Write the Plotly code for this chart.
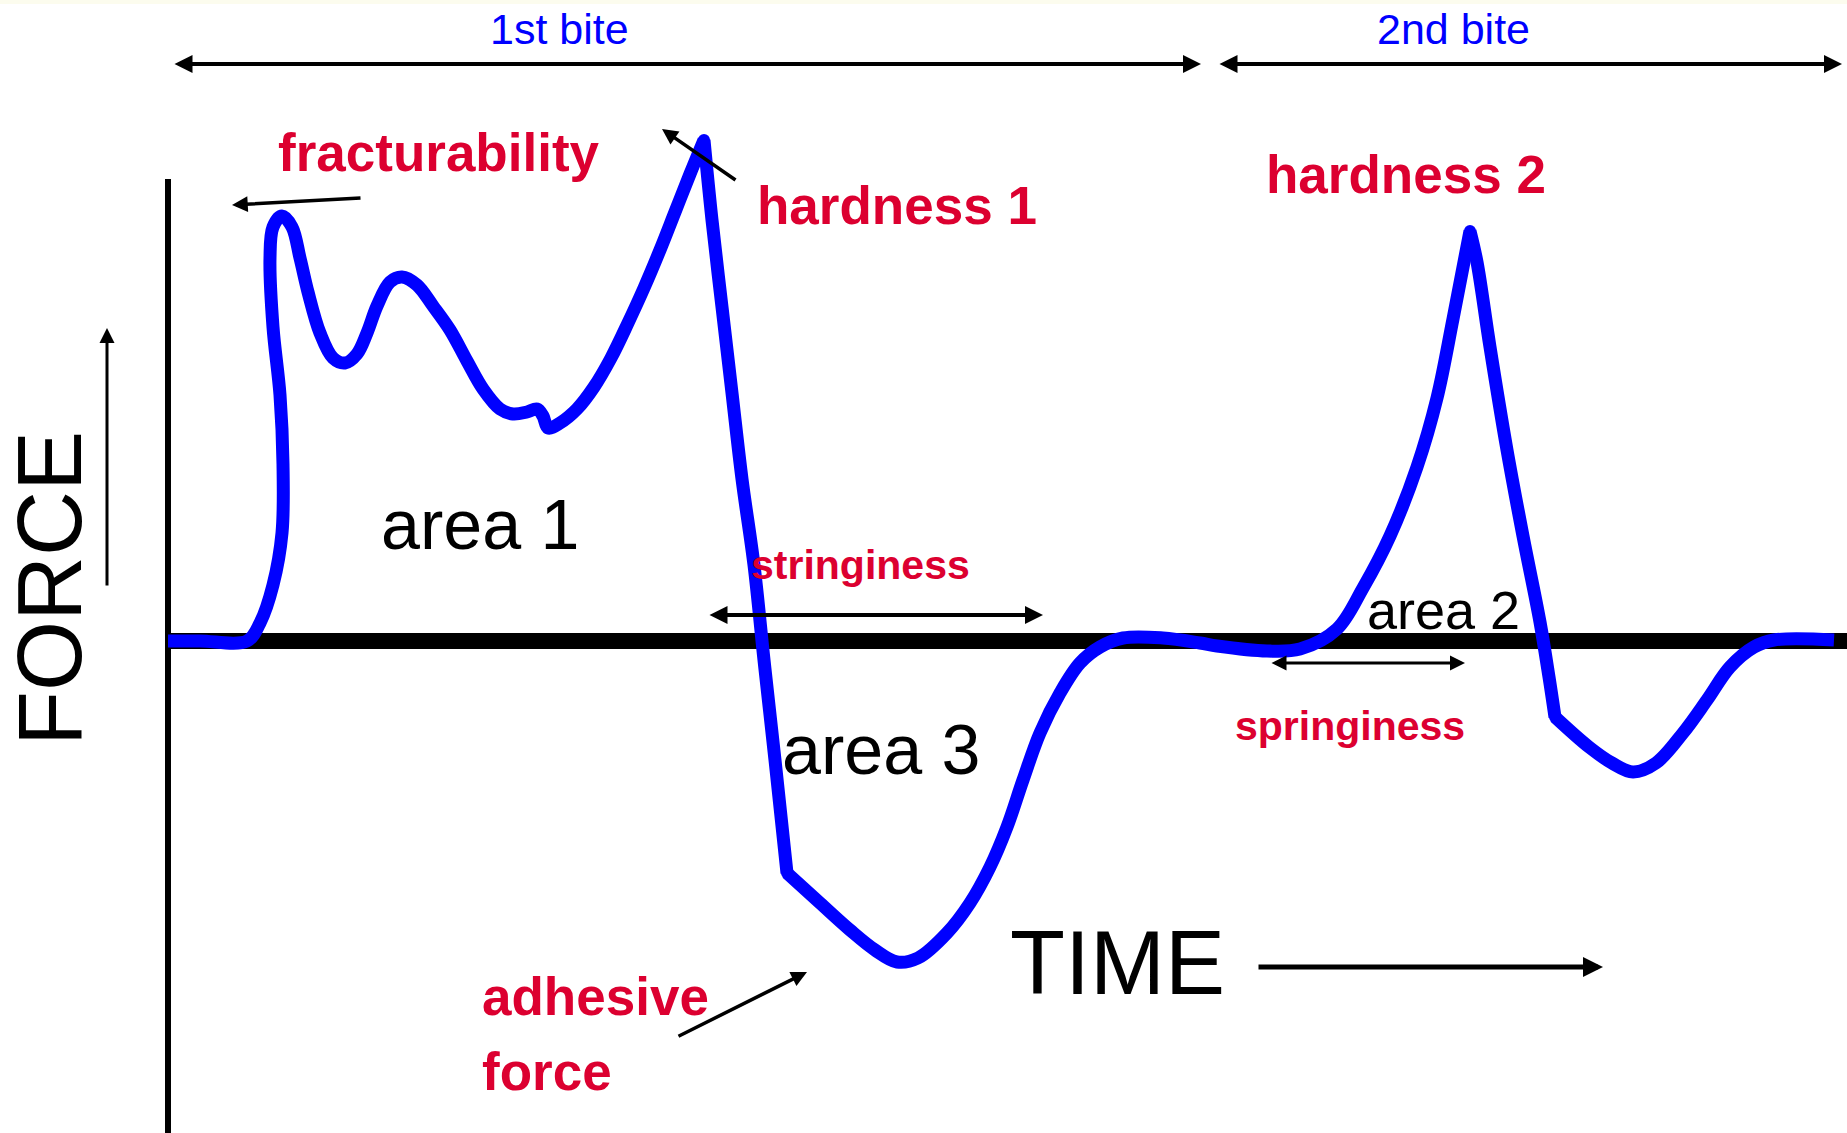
import plotly.graph_objects as go

# Texture profile analysis: force (N) against time (s) over two compression cycles.
# The curve is split at its sharp corners; neighbouring stretches share end points.
t_first_compression = [0.00, 0.32, 0.79, 0.92, 1.05, 1.14, 1.15, 1.12, 1.05, 1.02, 1.05, 1.14,
                       1.24, 1.32, 1.40, 1.52, 1.65, 1.77, 1.89, 1.99, 2.09, 2.22, 2.34, 2.49,
                       2.65, 2.82, 2.99, 3.15, 3.32, 3.45, 3.59, 3.69, 3.75, 3.80, 3.92, 4.09,
                       4.26, 4.43, 4.60, 4.76, 4.92, 5.07, 5.22, 5.36]
f_first_compression = [0.00, 0.00, 0.00, 0.18, 0.56, 1.08, 1.77, 2.46, 3.14, 3.83, 4.14, 4.25,
                       4.14, 3.83, 3.49, 3.08, 2.83, 2.78, 2.87, 3.08, 3.35, 3.59, 3.64, 3.56,
                       3.35, 3.11, 2.80, 2.52, 2.32, 2.27, 2.29, 2.32, 2.25, 2.13, 2.18, 2.32,
                       2.54, 2.83, 3.18, 3.53, 3.91, 4.29, 4.67, 5.01]

t_first_release = [5.36, 5.44, 5.54, 5.64, 5.74, 5.86, 5.96, 6.07, 6.19]
f_first_release = [5.01, 4.21, 3.34, 2.48, 1.62, 0.76, -0.19, -1.19, -2.32]

t_second_compression = [6.19, 6.52, 6.82, 7.07, 7.29, 7.50, 7.79, 8.02, 8.22, 8.39, 8.55, 8.72,
                        8.92, 9.12, 9.32, 9.55, 9.95, 10.32, 10.49, 10.99, 11.32, 11.69, 11.95,
                        12.22, 12.49, 12.69, 12.85, 13.02]
f_second_compression = [-2.32, -2.62, -2.89, -3.09, -3.21, -3.17, -2.92, -2.62, -2.26, -1.86,
                        -1.39, -0.92, -0.52, -0.22, -0.06, 0.03, 0.03, -0.02, -0.05, -0.10,
                        -0.08, 0.12, 0.53, 1.05, 1.74, 2.43, 3.22, 4.10]

t_second_release = [13.02, 13.09, 13.22, 13.39, 13.55, 13.72, 13.81, 13.87]
f_second_release = [4.10, 3.79, 2.94, 1.91, 1.05, 0.19, -0.36, -0.76]

t_second_withdrawal = [13.87, 14.21, 14.44, 14.65, 14.88, 15.15, 15.39, 15.62, 15.86, 16.06, 16.66]
f_second_withdrawal = [-0.76, -1.06, -1.22, -1.31, -1.22, -0.92, -0.59, -0.26, -0.06, 0.01, 0.01]

# extent of each bite along the time axis, and where its name sits
bite_names = ["1st bite", "2nd bite"]
bite_start = [0.05, 10.50]
bite_end = [10.33, 16.74]
bite_label_t = [3.91, 12.85]

BLUE = "#0000FF"
RED = "#DC0030"
FONT = "Liberation Sans, Arial, sans-serif"

segments = [
    (t_first_compression, f_first_compression),
    (t_first_release, f_first_release),
    (t_second_compression, f_second_compression),
    (t_second_release, f_second_release),
    (t_second_withdrawal, f_second_withdrawal),
]

fig = go.Figure()
for t, f in segments:
    fig.add_trace(go.Scatter(
        x=t, y=f, mode="lines",
        line=dict(color=BLUE, width=13, shape="spline", smoothing=1.0),
        hoverinfo="skip", showlegend=False,
    ))

# round off the joints between stretches
fig.add_trace(go.Scatter(
    x=[seg[0][-1] for seg in segments[:-1]],
    y=[seg[1][-1] for seg in segments[:-1]],
    mode="markers", marker=dict(color=BLUE, size=12, line=dict(width=0)),
    hoverinfo="skip", showlegend=False,
))

# axes drawn as plain black lines
fig.add_shape(type="line", x0=0, x1=16.79, y0=0, y1=0, xref="x", yref="y",
              line=dict(color="black", width=16), layer="below")
fig.add_shape(type="line", x0=0, x1=0, y0=4.62, y1=-5.0, xref="x", yref="y",
              line=dict(color="black", width=6), layer="below")
fig.add_shape(type="rect", xref="paper", yref="paper", x0=0, x1=1, y0=1 - 4 / 1133, y1=1,
              fillcolor="#FCFCEE", line=dict(width=0), layer="below")


def arrow(tail, head, width, both=False, size=1.0):
    return dict(
        x=head[0], y=head[1], ax=tail[0], ay=tail[1],
        xref="x", yref="y", axref="x", ayref="y",
        text="", showarrow=True, arrowcolor="black",
        arrowhead=2, arrowsize=size, arrowwidth=width,
        startarrowhead=2, startarrowsize=size,
        arrowside="end+start" if both else "end",
        standoff=0, startstandoff=0,
    )


def label(text, x, y, size, color="black", bold=False, angle=0, xanchor="center"):
    return dict(
        x=x, y=y, xref="x", yref="y", text=f"<b>{text}</b>" if bold else text,
        showarrow=False, textangle=angle, xanchor=xanchor, yanchor="middle",
        font=dict(family=FONT, size=size, color=color),
    )


annotations = []
for name, t0, t1, tl in zip(bite_names, bite_start, bite_end, bite_label_t):
    annotations.append(arrow((t0, 5.77), (t1, 5.77), 4, both=True, size=0.9))
    annotations.append(label(name, tl, 6.12, 43, color=BLUE))

annotations += [
    # feature pointers
    arrow((1.94, 4.43), (0.64, 4.36), 3.5, size=0.9),     # fracturability
    arrow((5.69, 4.60), (4.94, 5.12), 3.5, size=0.9),     # hardness 1
    arrow((5.40, 0.26), (8.75, 0.26), 4, both=True, size=0.9),    # stringiness
    arrow((11.02, -0.22), (12.97, -0.22), 3, both=True, size=1.0),  # springiness
    arrow((5.09, -3.96), (6.39, -3.31), 3.5, size=0.9),   # adhesive force
    arrow((10.89, -3.26), (14.35, -3.26), 5, size=0.8),   # time direction
    arrow((-0.61, 0.54), (-0.61, 3.13), 3, size=1.0),     # force direction

    # feature names
    label("fracturability", 2.71, 4.89, 53, RED, bold=True),
    label("hardness 1", 7.29, 4.36, 53, RED, bold=True),
    label("hardness 2", 12.38, 4.67, 53, RED, bold=True),
    label("stringiness", 6.92, 0.76, 41, RED, bold=True),
    label("springiness", 11.82, -0.85, 41, RED, bold=True),
    label("adhesive", 3.12, -3.55, 53, RED, bold=True, xanchor="left"),
    label("force", 3.12, -4.30, 53, RED, bold=True, xanchor="left"),

    # areas under the curve
    label("area 1", 3.12, 1.16, 70),
    label("area 2", 12.75, 0.31, 54),
    label("area 3", 7.13, -1.09, 70),

    # axis names
    label("TIME", 9.49, -3.22, 90),
    label("FORCE", -1.18, 0.52, 90, angle=-90),
]

fig.update_layout(
    width=1847, height=1133,
    margin=dict(l=0, r=0, t=0, b=0, pad=0),
    paper_bgcolor="white", plot_bgcolor="white",
    xaxis=dict(range=[-1.68, 16.79], visible=False, fixedrange=True),
    yaxis=dict(range=[-4.92, 6.41], visible=False, fixedrange=True),
    annotations=annotations,
    showlegend=False,
)

fig.write_html("out.html")
